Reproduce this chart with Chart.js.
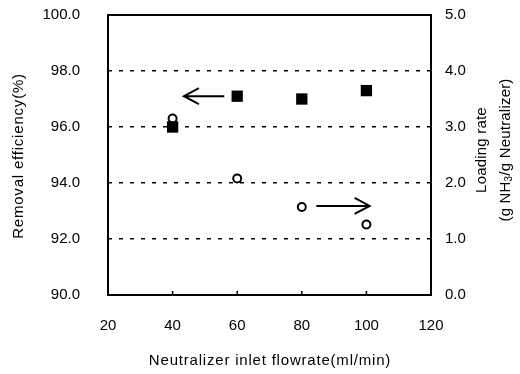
<!DOCTYPE html>
<html>
<head>
<meta charset="utf-8">
<script src="https://cdn.jsdelivr.net/npm/chart.js@4.4.0/dist/chart.umd.min.js"></script>
<style>
  html, body { margin: 0; padding: 0; background: #fff; }
  #wrap { width: 520px; height: 374px; }
</style>
</head>
<body>
<div id="wrap"><canvas id="chart" width="520" height="374"></canvas></div>
<script>
// values
const flowrates = [40, 60, 80, 100];
const removalEfficiency = [96.0, 97.1, 97.0, 97.3];
const loadingRate = [3.15, 2.08, 1.57, 1.26];
const xTicks = [20, 40, 60, 80, 100, 120];

// arrows telling which axis each series belongs to (data units)
const leftArrow = { from: 56, to: 43.5, y: 97.1, axis: "y" };
const rightArrow = { from: 84.5, to: 101, y: 1.59, axis: "y1" };

const tickFont = { family: "'Liberation Sans', Arial, sans-serif", size: 15 };
const titleFont = "15px 'Liberation Sans', Arial, sans-serif";

function drawArrow(ctx, chart, a) {
  const xs = chart.scales.x;
  const ys = chart.scales[a.axis];
  const x0 = xs.getPixelForValue(a.from);
  const x1 = xs.getPixelForValue(a.to);
  const y = ys.getPixelForValue(a.y);
  const dir = x1 > x0 ? 1 : -1;
  ctx.beginPath();
  ctx.moveTo(x0, y);
  ctx.lineTo(x1, y);
  ctx.moveTo(x1 - dir * 15, y - 8);
  ctx.lineTo(x1, y);
  ctx.lineTo(x1 - dir * 15, y + 8);
  ctx.stroke();
}

// drop the extra room Chart.js keeps for half tick labels
function fixPadding(s) {
  s.paddingTop = 0;
  s.paddingBottom = 0;
  s.paddingLeft = 0;
  s.paddingRight = 0;
}

function rotatedText(ctx, text, x, y) {
  ctx.save();
  ctx.translate(x, y);
  ctx.rotate(-Math.PI / 2);
  ctx.fillText(text, 0, 0);
  ctx.restore();
}

const framePlugin = {
  id: "frame",
  afterDatasetsDraw(chart) {
    const { ctx, chartArea: a } = chart;
    ctx.save();
    ctx.strokeStyle = "#000";
    ctx.lineWidth = 2;
    ctx.strokeRect(a.left, a.top, a.right - a.left, a.bottom - a.top);

    // small inward ticks on the bottom axis
    ctx.lineWidth = 1.5;
    xTicks.slice(1, -1).forEach((v) => {
      const px = chart.scales.x.getPixelForValue(v);
      ctx.beginPath();
      ctx.moveTo(px, a.bottom);
      ctx.lineTo(px, a.bottom - 4);
      ctx.stroke();
    });

    ctx.lineWidth = 2;
    drawArrow(ctx, chart, leftArrow);
    drawArrow(ctx, chart, rightArrow);

    // axis titles
    ctx.fillStyle = "#000";
    ctx.font = titleFont;
    ctx.letterSpacing = "0.8px";
    ctx.textAlign = "center";
    ctx.textBaseline = "middle";
    ctx.fillText("Neutralizer inlet flowrate(ml/min)", 270, 361);
    rotatedText(ctx, "Removal efficiency(%)", 19, 156);

    ctx.letterSpacing = "0.2px";
    rotatedText(ctx, "Loading rate", 482, 150);

    // second line with subscript 3
    ctx.save();
    ctx.translate(506, 150);
    ctx.rotate(-Math.PI / 2);
    ctx.textAlign = "left";
    const p1 = "(g NH", p2 = "3", p3 = "/g Neutralizer)";
    const subFont = "10px 'Liberation Sans', Arial, sans-serif";
    ctx.font = titleFont;
    const w1 = ctx.measureText(p1).width;
    const w3 = ctx.measureText(p3).width;
    ctx.font = subFont;
    const w2 = ctx.measureText(p2).width;
    let x = -(w1 + w2 + w3) / 2;
    ctx.font = titleFont;
    ctx.fillText(p1, x, 0);
    x += w1;
    ctx.font = subFont;
    ctx.fillText(p2, x, 3);
    x += w2;
    ctx.font = titleFont;
    ctx.fillText(p3, x, 0);
    ctx.restore();

    ctx.restore();
  },
};

new Chart(document.getElementById("chart"), {
  type: "scatter",
  data: {
    datasets: [
      {
        label: "Removal efficiency",
        data: flowrates.map((x, i) => ({ x, y: removalEfficiency[i] })),
        yAxisID: "y",
        pointStyle: "rect",
        pointRadius: 8,
        backgroundColor: "#000",
        borderColor: "#000",
        borderWidth: 0,
      },
      {
        label: "Loading rate",
        data: flowrates.map((x, i) => ({ x, y: loadingRate[i] })),
        yAxisID: "y1",
        pointStyle: "circle",
        pointRadius: 4,
        backgroundColor: "#fff",
        borderColor: "#000",
        borderWidth: 2,
      },
    ],
  },
  options: {
    responsive: false,
    animation: false,
    layout: { padding: { top: 15, left: 0, right: 0, bottom: 0 } },
    plugins: { legend: { display: false }, tooltip: { enabled: false } },
    scales: {
      x: {
        type: "linear",
        min: 20,
        max: 120,
        afterBuildTicks: (s) => { s.ticks = xTicks.map((v) => ({ value: v })); },
        afterFit: (s) => { s.height = 79; fixPadding(s); },
        grid: { display: false, drawTicks: false },
        border: { display: false },
        ticks: { color: "#000", font: tickFont, padding: 22, maxRotation: 0 },
      },
      y: {
        position: "left",
        min: 90,
        max: 100,
        afterFit: (s) => { s.width = 108; fixPadding(s); },
        grid: {
          color: (c) => (c.tick.value > 90 && c.tick.value < 100 ? "#000" : "rgba(0,0,0,0)"),
          lineWidth: 1.5,
          drawTicks: false,
        },
        border: { display: false, dash: [4, 7] },
        ticks: {
          stepSize: 2,
          color: "#000",
          font: tickFont,
          padding: 28,
          callback: (v) => v.toFixed(1),
        },
      },
      y1: {
        position: "right",
        min: 0,
        max: 5,
        afterFit: (s) => { s.width = 89; fixPadding(s); },
        grid: { display: false, drawTicks: false },
        border: { display: false },
        ticks: {
          stepSize: 1,
          color: "#000",
          font: tickFont,
          padding: 14,
          callback: (v) => v.toFixed(1),
        },
      },
    },
  },
  plugins: [framePlugin],
});
</script>
</body>
</html>
